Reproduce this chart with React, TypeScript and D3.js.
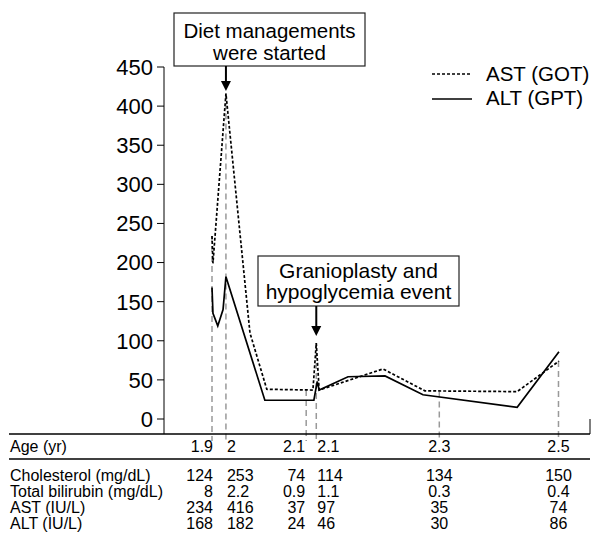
import React from 'react';
import * as d3 from 'd3';

// ---- Data ----
const astT = [0, 0.02, 0.29, 0.79, 1.14, 2.1, 2.17, 2.23, 3.56, 4.43, 6.35, 7.22];
const astV = [234, 199, 416, 110, 38, 37, 97, 37, 64, 36, 35, 74];
const altT = [0, 0.02, 0.12, 0.23, 0.29, 1.1, 2.12, 2.19, 2.23, 2.83, 3.6, 4.39, 6.35, 7.22];
const altV = [168, 135, 119, 140, 182, 24, 24, 48, 37, 54, 55, 31, 15, 86];

const markerT = [0, 0.29, 1.96, 2.17, 4.73, 7.21];
const ages = ['1.9', '2', '2.1', '2.1', '2.3', '2.5'];
const cholesterol = ['124', '253', '74', '114', '134', '150'];
const bilirubin = ['8', '2.2', '0.9', '1.1', '0.3', '0.4'];
const astTable = [234, 416, 37, 97, 35, 74];
const altTable = [168, 182, 24, 46, 30, 86];
const rowLabels = ['Cholesterol (mg/dL)', 'Total bilirubin (mg/dL)', 'AST (IU/L)', 'ALT (IU/L)'];
const yTicks = [0, 50, 100, 150, 200, 250, 300, 350, 400, 450];
const legendLabels = ['AST (GOT)', 'ALT (GPT)'];
const annot1 = ['Diet managements', 'were started'];
const annot2 = ['Granioplasty and', 'hypoglycemia event'];

const FONT = '"Liberation Sans", Arial, Helvetica, sans-serif';

export default function App() {
  const W = 593, H = 539;
  const x = d3.scaleLinear().domain([0, 7.2]).range([212, 558]);
  const y = d3.scaleLinear().domain([0, 450]).range([419, 67]);
  const line = d3.line<[number, number]>().x(d => x(d[0])).y(d => y(d[1]));
  const astPts: [number, number][] = astT.map((t, i) => [t, astV[i]]);
  const altPts: [number, number][] = altT.map((t, i) => [t, altV[i]]);

  const axisX = 164;
  const lineTop = 434;
  const lineMid = 459;
  const anchors = ['end', 'start', 'end', 'start', 'middle', 'middle'];
  const offs = [1, 1, -1, 1, 0, 0];
  const rows = [cholesterol, bilirubin, astTable.map(String), altTable.map(String)];
  const rowBase = [481, 497, 513, 529];

  const arrow = (cx: number, y0: number, tip: number) => (
    <g>
      <line x1={cx} x2={cx} y1={y0} y2={tip - 8} stroke="#000" strokeWidth={2} />
      <path d={`M${cx - 5},${tip - 10} L${cx + 5},${tip - 10} L${cx},${tip} Z`} fill="#000" />
    </g>
  );

  const a1x = x(markerT[1]);
  const a2x = x(markerT[3]);

  return (
    <svg width={W} height={H} style={{ position: 'absolute', left: 0, top: 0, background: '#fff' }} fontFamily={FONT}>
      <rect width={W} height={H} fill="#fff" />
      {/* markers */}
      {markerT.map((t, i) => (
        <line key={i} x1={x(t)} x2={x(t)} y1={y(astTable[i])} y2={441} stroke="#999" strokeWidth={1.5} strokeDasharray="6 4" />
      ))}
      {/* lines */}
      <path d={line(altPts) || ''} fill="none" stroke="#000" strokeWidth={1.7} strokeLinejoin="miter" />
      <path d={line(astPts) || ''} fill="none" stroke="#000" strokeWidth={1.7} strokeDasharray="3 2" />
      {/* y axis */}
      <line x1={axisX} x2={axisX} y1={y(450)} y2={lineTop} stroke="#000" strokeWidth={1} />
      {yTicks.map(v => (
        <g key={v}>
          <line x1={axisX - 7} x2={axisX} y1={y(v)} y2={y(v)} stroke="#000" />
          <text x={153} y={y(v)} dy="0.36em" textAnchor="end" fontSize={22}>{v}</text>
        </g>
      ))}
      {/* table lines */}
      <line x1={9} x2={590} y1={lineTop} y2={lineTop} stroke="#000" strokeWidth={1.3} />
      <line x1={590} x2={590} y1={419} y2={lineTop} stroke="#000" strokeWidth={1} />
      <line x1={9} x2={590} y1={lineMid} y2={lineMid} stroke="#000" strokeWidth={1.3} />
      <text x={10} y={452} fontSize={16}>Age (yr)</text>
      {ages.map((a, i) => (
        <text key={i} x={x(markerT[i]) + offs[i]} y={452} fontSize={16} textAnchor={anchors[i]}>{a}</text>
      ))}
      {rowLabels.map((l, r) => (
        <g key={l}>
          <text x={10} y={rowBase[r]} fontSize={16}>{l}</text>
          {rows[r].map((v, i) => (
            <text key={i} x={x(markerT[i]) + offs[i]} y={rowBase[r]} fontSize={16} textAnchor={anchors[i]}>{v}</text>
          ))}
        </g>
      ))}
      {/* legend */}
      <line x1={432} x2={472} y1={74} y2={74} stroke="#000" strokeWidth={1.6} strokeDasharray="3 2" />
      <text x={486} y={74} dy="0.36em" fontSize={20.5}>{legendLabels[0]}</text>
      <line x1={432} x2={472} y1={99} y2={99} stroke="#000" strokeWidth={1.6} />
      <text x={486} y={98} dy="0.36em" fontSize={20.5}>{legendLabels[1]}</text>
      {/* annotation 1 */}
      <rect x={174} y={13} width={191} height={53} fill="#fff" stroke="#222" strokeWidth={1.2} />
      <text x={269.5} y={38} textAnchor="middle" fontSize={20.5}>{annot1[0]}</text>
      <text x={269.5} y={60} textAnchor="middle" fontSize={20.5}>{annot1[1]}</text>
      {arrow(a1x, 66, 91)}
      {/* annotation 2 */}
      <rect x={258} y={256} width={201} height={50} fill="#fff" stroke="#222" strokeWidth={1.2} />
      <text x={358.5} y={278} textAnchor="middle" fontSize={21}>{annot2[0]}</text>
      <text x={358.5} y={299} textAnchor="middle" fontSize={21}>{annot2[1]}</text>
      {arrow(a2x, 306, 336)}
    </svg>
  );
}
